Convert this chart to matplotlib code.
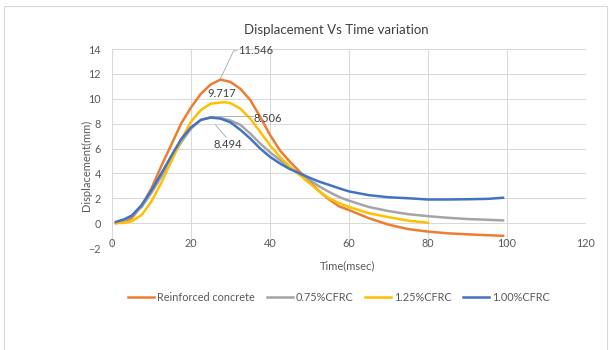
import matplotlib.pyplot as plt
from matplotlib.patches import Rectangle

plt.rcParams['font.family'] = ['Lato', 'DejaVu Sans']

# Data
t_rc = [1, 3, 5, 7.5, 10, 12.5, 15, 17.5, 20, 22.5, 25, 27.5, 30, 32.5, 35, 37.5, 40,
        42.5, 45, 47.5, 50, 52.5, 55, 57.5, 60, 65, 70, 75, 80, 85, 90, 95, 99]
d_rc = [0.0, 0.1, 0.4, 1.4, 2.8, 4.6, 6.3, 8.0, 9.3, 10.4, 11.15, 11.546, 11.35, 10.8, 9.9, 8.55, 7.1,
        5.85, 4.95, 4.15, 3.35, 2.55, 1.9, 1.35, 1.05, 0.4, -0.12, -0.48, -0.68, -0.82, -0.9, -0.97, -1.02]

t_075 = [1, 3, 5, 7.5, 10, 12.5, 15, 17.5, 20, 22.5, 25, 26, 27.5, 30, 32.5, 35, 37.5, 40,
         42.5, 45, 47.5, 50, 52.5, 55, 57.5, 60, 65, 70, 75, 80, 85, 90, 95, 99]
d_075 = [0.05, 0.2, 0.6, 1.3, 2.45, 3.75, 5.15, 6.5, 7.6, 8.3, 8.5, 8.506, 8.45, 8.25, 7.9, 7.2, 6.4, 5.7,
         5.07, 4.5, 4.0, 3.47, 2.95, 2.5, 2.1, 1.8, 1.3, 0.97, 0.72, 0.56, 0.43, 0.33, 0.27, 0.22]

t_125 = [1, 3, 5, 7.5, 10, 12.5, 15, 17.5, 20, 22.5, 25, 27.5, 28.5, 30, 32.5, 35, 37.5, 40,
         42.5, 45, 47.5, 50, 52.5, 55, 57.5, 60, 65, 70, 75, 80]
d_125 = [0.0, 0.02, 0.15, 0.65, 1.75, 3.25, 4.95, 6.7, 8.15, 9.1, 9.6, 9.7, 9.717, 9.65, 9.2, 8.4, 7.35, 6.27,
         5.33, 4.55, 3.88, 3.2, 2.55, 2.0, 1.6, 1.3, 0.8, 0.48, 0.2, 0.03]

t_100 = [1, 3, 5, 7.5, 10, 12.5, 15, 17.5, 20, 22.5, 25, 27.5, 30, 32.5, 35, 37.5, 40,
         42.5, 45, 47.5, 50, 52.5, 55, 57.5, 60, 65, 70, 75, 80, 85, 90, 95, 99]
d_100 = [0.1, 0.3, 0.6, 1.45, 2.65, 4.0, 5.4, 6.75, 7.7, 8.3, 8.494, 8.4, 8.1, 7.5, 6.8, 6.0, 5.33,
         4.8, 4.35, 4.0, 3.65, 3.33, 3.07, 2.8, 2.55, 2.25, 2.08, 2.0, 1.9, 1.9, 1.92, 1.95, 2.04]

fig = plt.figure(figsize=(6.11, 3.5), dpi=100)
ax = fig.add_axes([0.1833, 0.2914, 0.7758, 0.5686])

ax.plot(t_rc, d_rc, color='#ED7D31', lw=1.8, label='Reinforced concrete')
ax.plot(t_075, d_075, color='#A5A5A5', lw=1.8, label='0.75%CFRC')
ax.plot(t_125, d_125, color='#FFC000', lw=1.8, label='1.25%CFRC')
ax.plot(t_100, d_100, color='#4472C4', lw=1.8, label='1.00%CFRC')

# data labels with leader lines
lc = '#A6A6A6'
tc = '#404040'
ax.plot([27.5, 30.8, 31.6], [11.65, 13.86, 13.86], color=lc, lw=0.6)
ax.text(32.0, 13.85, '11.546', fontsize=8, color=tc, va='center')
ax.text(27.8, 10.45, '9.717', fontsize=8, color=tc, ha='center', va='center')
ax.plot([26.5, 35.6], [8.6, 8.6], color=lc, lw=0.6)
ax.text(35.7, 8.45, '8.506', fontsize=8, color=tc, va='center')
ax.plot([26.2, 28.9], [7.9, 6.9], color=lc, lw=0.6)
ax.text(29.4, 6.35, '8.494', fontsize=8, color=tc, ha='center', va='center')

ax.set_xlim(0, 120)
ax.set_ylim(-2, 14)
ax.set_xticks(range(0, 121, 20))
ax.set_yticks(range(-2, 15, 2))
ax.grid(True, color='#D9D9D9', lw=0.75)
ax.set_axisbelow(True)
for s in ['top', 'right', 'left']:
    ax.spines[s].set_visible(False)
ax.spines['bottom'].set_position(('data', 0))
ax.spines['bottom'].set_visible(False)
ax.tick_params(axis='x', length=0, pad=11, labelsize=7.8, labelcolor='#595959')
ax.tick_params(axis='y', length=0, pad=8, labelsize=7.8, labelcolor='#595959')

fig.text(0.55, 1 - 30 / 350, 'Displacement Vs Time variation', fontsize=9.5,
         color='#404040', ha='center', va='center')
fig.text(348 / 611, 1 - 266 / 350, 'Time(msec)', fontsize=8, color='#595959',
         ha='center', va='center')
fig.text(86 / 611, 1 - 165 / 350, 'Displacement(mm)', fontsize=8, color='#595959',
         ha='center', va='center', rotation=90)

fig.legend(loc='center', bbox_to_anchor=(0.555, 0.151), ncol=4, frameon=False,
           fontsize=7.8, handlelength=2.4, handletextpad=0.25, columnspacing=1.1,
           labelcolor='#595959')

# chart area border
fig.patches.append(Rectangle((4 / 611, -0.1), 603 / 611, 1.1 - 6 / 350,
                             transform=fig.transFigure, fill=False,
                             edgecolor='#D9D9D9', lw=0.8))

fig.savefig('out.png', dpi=100)
